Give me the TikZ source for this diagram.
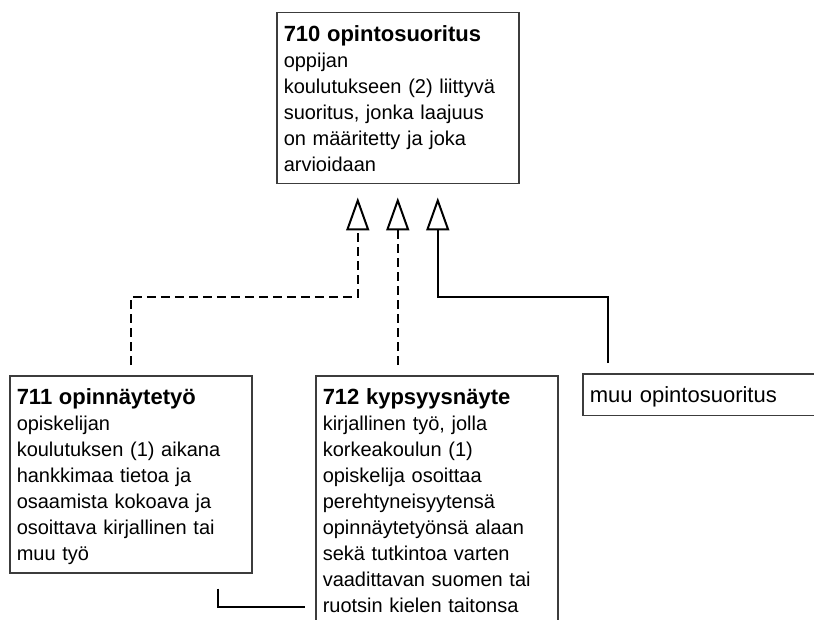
\documentclass[tikz,border=0pt]{standalone}
\usepackage{fontspec}
\setmainfont{Liberation Sans}
\usetikzlibrary{arrows.meta, positioning}
\definecolor{boxbd}{HTML}{3C3C3C}
\newcommand{\termhead}[1]{{\fontsize{22}{26}\selectfont\bfseries #1}}
\tikzset{
  termbox/.style={
    draw=boxbd, line width=1.5pt, anchor=north west,
    text width=228pt, align=left, inner xsep=7pt, inner ysep=8pt,
    font=\fontsize{20}{26}\selectfont,
    execute at begin node=\rule{0pt}{21pt},
    execute at end node=\rule[-4pt]{0pt}{4pt}
  },
  gen/.style={-{Triangle[open, length=33pt, width=23pt, line width=2pt]},
    line width=2pt, shorten <=10pt, shorten >=13pt},
  realize/.style={dash pattern=on 9pt off 5pt},
  link/.style={line width=2pt}
}

\begin{document}
\begin{tikzpicture}[x=1pt, y=-1pt]
  \fill[white] (0,0) rectangle (814,620);
  \path[use as bounding box, clip] (0,0) rectangle (814,620);

  \node[termbox] (t710) at (276,12) {\termhead{710 opintosuoritus}\\
    oppijan\\ koulutukseen (2) liittyvä\\ suoritus, jonka laajuus\\
    on määritetty ja joka\\ arvioidaan};
  \node[termbox] (t711) at (9,375) {\termhead{711 opinnäytetyö}\\
    opiskelijan\\ koulutuksen (1) aikana\\ hankkimaa tietoa ja\\
    osaamista kokoava ja\\ osoittava kirjallinen tai\\ muu työ};
  \node[termbox] (t712) at (315,375) {\termhead{712 kypsyysnäyte}\\
    kirjallinen työ, jolla\\ korkeakoulun (1)\\ opiskelija osoittaa\\
    perehtyneisyytensä\\ opinnäytetyönsä alaan\\ sekä tutkintoa varten\\
    vaadittavan suomen tai\\ ruotsin kielen taitonsa};
  \node[termbox, font=\fontsize{22}{26}\selectfont] (muu) at (582,373) {muu opintosuoritus};

  \coordinate (bend) at (0,297);
  \coordinate (muuin) at ([xshift=26pt]muu.north west);
  \coordinate (join) at (218,607);

  \draw[gen, realize] (t711.north) -- (t711.north |- bend) -| ([xshift=-40pt]t710.south);
  \draw[gen, realize] (t710.south |- t712.north) -- (t710.south);
  \draw[gen] (muuin) -- (muuin |- bend) -| ([xshift=40pt]t710.south);
  \draw[link, shorten <=15pt, shorten >=10pt] (t711.south -| join) |- (t712.west |- join);
\end{tikzpicture}
\end{document}
